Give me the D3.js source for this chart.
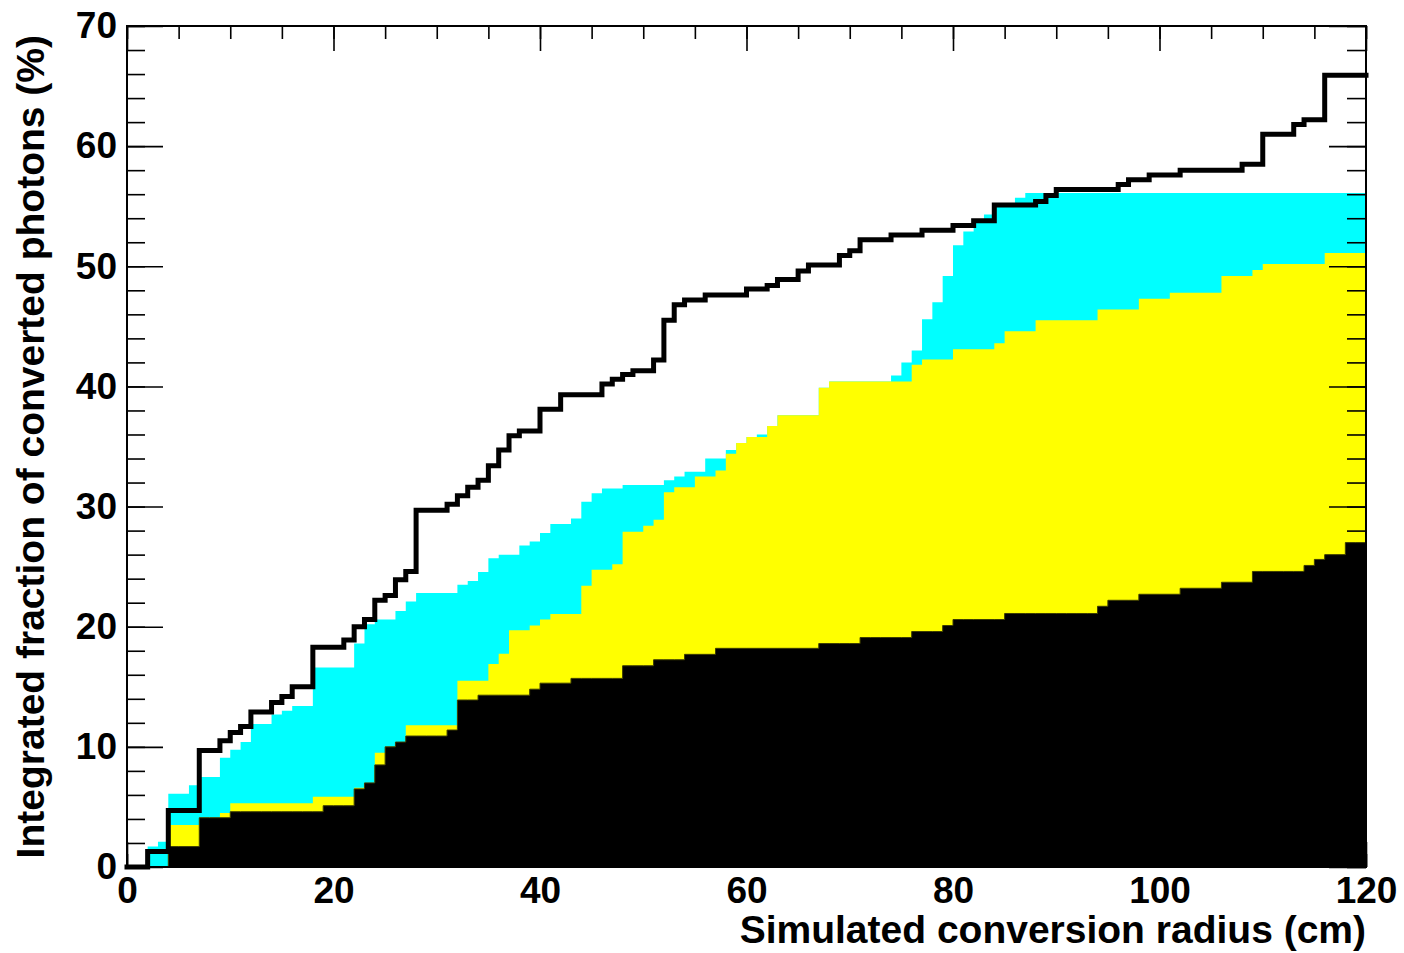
<!DOCTYPE html>
<html>
<head>
<meta charset="utf-8">
<script src="https://cdn.jsdelivr.net/npm/d3@7"></script>
<style>
  body { margin: 0; background: #fff; }
  svg text { font-family: "Liberation Sans", Arial, Helvetica, sans-serif; font-weight: bold; fill: #000; }
</style>
</head>
<body>
<svg id="chart"></svg>
<script>
// 1 cm bins, 0..120 cm. Values are integrated fractions in %.
const binEdges = d3.range(0, 121);

// total (black outline)
const totalLine = [
  0, 0, 1.3, 1.3, 4.7, 4.7, 4.7, 9.7, 9.7, 10.5,
  11.2, 11.7, 12.9, 12.9, 13.7, 14.2, 15.0, 15.0, 18.3, 18.3,
  18.3, 18.9, 20.0, 20.6, 22.2, 22.6, 23.9, 24.6, 29.7, 29.7,
  29.7, 30.2, 30.9, 31.6, 32.2, 33.4, 34.7, 35.9, 36.3, 36.3,
  38.1, 38.1, 39.3, 39.3, 39.3, 39.3, 40.2, 40.6, 41.0, 41.3,
  41.3, 42.2, 45.5, 46.8, 47.2, 47.2, 47.6, 47.6, 47.6, 47.6,
  48.1, 48.1, 48.4, 48.9, 48.9, 49.6, 50.1, 50.1, 50.1, 50.9,
  51.3, 52.2, 52.2, 52.2, 52.6, 52.6, 52.6, 53.0, 53.0, 53.0,
  53.4, 53.4, 53.8, 53.8, 55.1, 55.1, 55.1, 55.1, 55.4, 55.9,
  56.4, 56.4, 56.4, 56.4, 56.4, 56.4, 56.8, 57.2, 57.2, 57.6,
  57.6, 57.6, 58.0, 58.0, 58.0, 58.0, 58.0, 58.0, 58.5, 58.5,
  61.0, 61.0, 61.0, 61.8, 62.2, 62.2, 65.9, 65.9, 65.9, 65.9
];

// cyan fill
const cyanFill = [
  0, 0, 1.7, 2.1, 6.1, 6.1, 6.8, 7.5, 7.5, 9.1,
  9.75, 10.4, 11.9, 11.9, 12.7, 13.0, 13.4, 13.4, 16.6, 16.6,
  16.6, 16.6, 18.6, 20.2, 20.6, 20.6, 21.3, 22.1, 22.8, 22.8,
  22.8, 22.8, 23.5, 23.8, 24.55, 25.7, 26.0, 26.0, 26.75, 27.1,
  27.8, 28.55, 28.55, 29.0, 30.4, 31.1, 31.5, 31.5, 31.8, 31.8,
  31.8, 31.8, 32.2, 32.5, 32.9, 32.9, 34.0, 34.0, 34.7, 35.3,
  35.8, 36.0, 36.7, 37.6, 37.6, 37.6, 37.6, 39.9, 40.4, 40.4,
  40.4, 40.4, 40.4, 40.4, 40.9, 42.0, 43.0, 45.6, 47.0, 49.2,
  51.75, 52.9, 53.6, 54.3, 55.0, 55.0, 55.7, 56.1, 56.1, 56.1,
  56.1, 56.1, 56.1, 56.1, 56.1, 56.1, 56.1, 56.1, 56.1, 56.1,
  56.1, 56.1, 56.1, 56.1, 56.1, 56.1, 56.1, 56.1, 56.1, 56.1,
  56.1, 56.1, 56.1, 56.1, 56.1, 56.1, 56.1, 56.1, 56.1, 56.1
];

// yellow fill
const yellowFill = [
  0, 0, 0, 0, 3.5, 3.5, 3.5, 4.1, 4.1, 4.5,
  5.3, 5.3, 5.3, 5.3, 5.3, 5.3, 5.3, 5.3, 5.85, 5.85,
  5.85, 5.85, 6.6, 7.0, 9.5, 10.0, 10.4, 11.8, 11.8, 11.8,
  11.8, 11.8, 15.5, 15.5, 15.5, 16.9, 17.75, 19.7, 19.7, 20.1,
  20.6, 21.05, 21.05, 21.05, 23.4, 24.75, 24.75, 25.2, 27.9, 27.9,
  28.4, 28.9, 31.2, 31.6, 31.6, 32.5, 32.5, 33.0, 34.4, 35.3,
  35.8, 35.8, 36.7, 37.6, 37.6, 37.6, 37.6, 39.9, 40.4, 40.4,
  40.4, 40.4, 40.4, 40.4, 40.4, 40.4, 41.8, 42.25, 42.25, 42.25,
  43.1, 43.1, 43.1, 43.1, 43.6, 44.6, 44.6, 44.6, 45.5, 45.5,
  45.5, 45.5, 45.5, 45.5, 46.4, 46.4, 46.4, 46.4, 47.3, 47.3,
  47.3, 47.8, 47.8, 47.8, 47.8, 47.8, 49.2, 49.2, 49.2, 49.7,
  50.2, 50.2, 50.2, 50.2, 50.2, 50.2, 51.1, 51.1, 51.1, 51.1
];

// black fill
const blackFill = [
  0, 0, 0, 0, 1.7, 1.7, 1.7, 4.1, 4.1, 4.1,
  4.6, 4.6, 4.6, 4.6, 4.6, 4.6, 4.6, 4.6, 4.6, 5.1,
  5.1, 5.1, 6.5, 7.0, 8.5, 10.0, 10.4, 10.9, 10.9, 10.9,
  10.9, 11.4, 13.9, 13.9, 14.3, 14.3, 14.3, 14.3, 14.3, 14.8,
  15.3, 15.3, 15.3, 15.7, 15.7, 15.7, 15.7, 15.7, 16.75, 16.75,
  16.75, 17.25, 17.25, 17.25, 17.7, 17.7, 17.7, 18.2, 18.2, 18.2,
  18.2, 18.2, 18.2, 18.2, 18.2, 18.2, 18.2, 18.6, 18.6, 18.6,
  18.6, 19.1, 19.1, 19.1, 19.1, 19.1, 19.6, 19.6, 19.6, 20.1,
  20.6, 20.6, 20.6, 20.6, 20.6, 21.1, 21.1, 21.1, 21.1, 21.1,
  21.1, 21.1, 21.1, 21.1, 21.7, 22.2, 22.2, 22.2, 22.7, 22.7,
  22.7, 22.7, 23.2, 23.2, 23.2, 23.2, 23.7, 23.7, 23.7, 24.6,
  24.6, 24.6, 24.6, 24.6, 25.1, 25.6, 26.0, 26.0, 27.0, 27.0
];

const xMajorTicks = [0, 20, 40, 60, 80, 100, 120];
const xMinorTicks = d3.range(0, 121, 5);
const yMajorTicks = [0, 10, 20, 30, 40, 50, 60, 70];
const yMinorTicks = d3.range(0, 71, 2);

const xTitle = "Simulated conversion radius (cm)";
const yTitle = "Integrated fraction of converted photons (%)";

const width = 1404, height = 953;
const padL = 127, padR = 1366, padT = 26, padB = 867;

const svg = d3.select("#chart").attr("width", width).attr("height", height);

const x = d3.scaleLinear().domain([0, 120]).range([padL, padR]);
const y = d3.scaleLinear().domain([0, 70]).range([padB, padT]);

// step points: value of bin i spans [i, i+1]
const steps = vals => binEdges.map((e, i) => ({ x: e, v: vals[Math.min(i, vals.length - 1)] }));

const area = d3.area()
  .x(d => x(d.x))
  .y0(y(0))
  .y1(d => y(d.v))
  .curve(d3.curveStepAfter);

const line = d3.line()
  .x(d => x(d.x))
  .y(d => y(d.v))
  .curve(d3.curveStepAfter);

svg.append("path").datum(steps(cyanFill)).attr("d", area).attr("fill", "#00ffff");
svg.append("path").datum(steps(yellowFill)).attr("d", area).attr("fill", "#ffff00");
svg.append("path").datum(steps(blackFill)).attr("d", area)
   .attr("fill", "#000").attr("stroke", "#3d3d00").attr("stroke-width", 1);

svg.append("path").datum(steps(totalLine)).attr("d", line)
   .attr("fill", "none").attr("stroke", "#000").attr("stroke-width", 5)
   .attr("stroke-linejoin", "miter").attr("stroke-linecap", "square");

// frame
svg.append("rect")
   .attr("x", padL).attr("y", padT)
   .attr("width", padR - padL).attr("height", padB - padT)
   .attr("fill", "none").attr("stroke", "#000").attr("stroke-width", 2);

const tickStyle = g => {
  g.select(".domain").remove();
  g.selectAll(".tick line").attr("stroke", "#000").attr("stroke-width", 1.6);
  g.selectAll(".tick text").attr("font-size", 37).attr("fill", "#000");
};

// left axis
svg.append("g").attr("transform", `translate(${padL},0)`)
   .call(d3.axisLeft(y).tickValues(yMinorTicks).tickSize(-18).tickFormat(""))
   .call(tickStyle);
svg.append("g").attr("transform", `translate(${padL},0)`)
   .call(d3.axisLeft(y).tickValues(yMajorTicks).tickSize(-36).tickPadding(10).tickFormat(d3.format("d")))
   .call(tickStyle);

// right axis
svg.append("g").attr("transform", `translate(${padR},0)`)
   .call(d3.axisRight(y).tickValues(yMinorTicks).tickSize(-19).tickFormat(""))
   .call(tickStyle);
svg.append("g").attr("transform", `translate(${padR},0)`)
   .call(d3.axisRight(y).tickValues(yMajorTicks).tickSize(-37).tickFormat(""))
   .call(tickStyle);

// top axis
svg.append("g").attr("transform", `translate(0,${padT})`)
   .call(d3.axisTop(x).tickValues(xMinorTicks).tickSize(-13).tickFormat(""))
   .call(tickStyle);
svg.append("g").attr("transform", `translate(0,${padT})`)
   .call(d3.axisTop(x).tickValues(xMajorTicks).tickSize(-25).tickFormat(""))
   .call(tickStyle);

// bottom axis
svg.append("g").attr("transform", `translate(0,${padB})`)
   .call(d3.axisBottom(x).tickValues(xMinorTicks).tickSize(-13).tickFormat(""))
   .call(tickStyle);
svg.append("g").attr("transform", `translate(0,${padB})`)
   .call(d3.axisBottom(x).tickValues(xMajorTicks).tickSize(-25).tickPadding(10).tickFormat(d3.format("d")))
   .call(tickStyle);

// titles
svg.append("text")
   .attr("x", padR).attr("y", 943)
   .attr("text-anchor", "end")
   .attr("font-size", 39)
   .text(xTitle);

svg.append("text")
   .attr("transform", "translate(44,35) rotate(-90)")
   .attr("text-anchor", "end")
   .attr("font-size", 39)
   .text(yTitle);
</script>
</body>
</html>
